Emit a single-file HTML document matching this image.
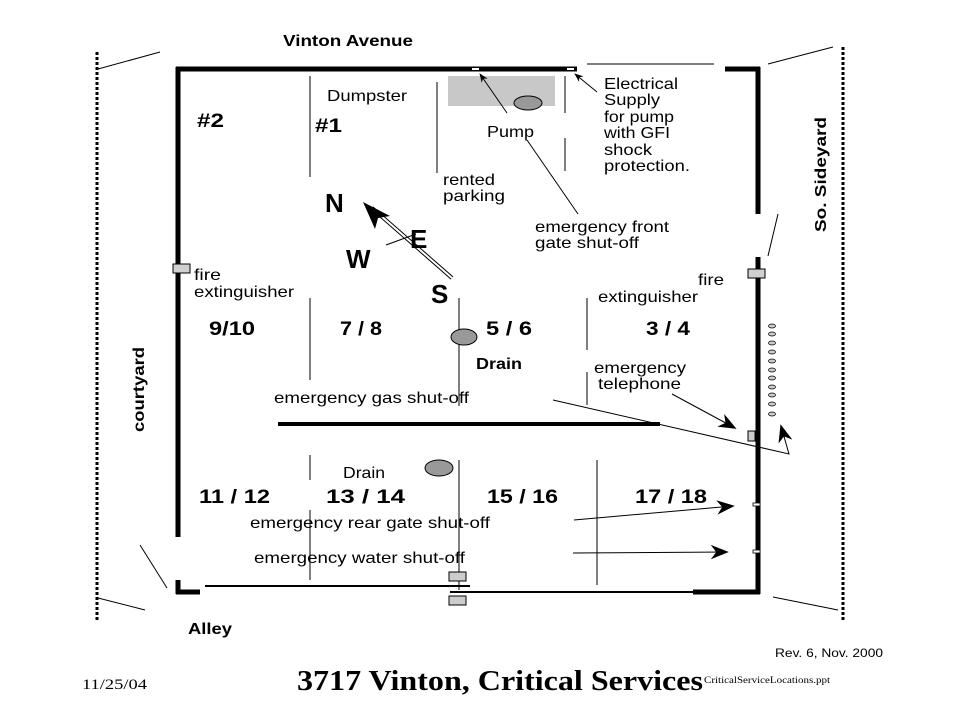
<!DOCTYPE html>
<html><head><meta charset="utf-8"><style>
html,body{margin:0;padding:0;background:#fff;}
svg{display:block;}
text{font-family:"Liberation Sans",Arial,sans-serif;fill:#000;}
</style></head><body>
<svg width="959" height="719" viewBox="0 0 959 719" xmlns="http://www.w3.org/2000/svg">
<defs>
<marker id="ah" viewBox="0 0 10 10" refX="9" refY="5" markerWidth="9" markerHeight="9" orient="auto-start-reverse" markerUnits="userSpaceOnUse"><path d="M0,1 L10,5 L0,9 L3,5 z" fill="#000"/></marker>
<marker id="ahb" viewBox="0 0 10 10" refX="9" refY="5" markerWidth="18" markerHeight="18" orient="auto" markerUnits="userSpaceOnUse"><path d="M0,1 L10,5 L0,9 L3,5 z" fill="#000"/></marker>
</defs>
<line x1="97" y1="52" x2="97" y2="620" stroke="#000" stroke-width="3" stroke-dasharray="3,2"/>
<line x1="843" y1="47" x2="843" y2="620" stroke="#000" stroke-width="3" stroke-dasharray="3,2"/>
<line x1="98" y1="69" x2="160" y2="52" stroke="#000" stroke-width="1"/>
<line x1="768" y1="64" x2="833" y2="47" stroke="#000" stroke-width="1"/>
<line x1="98" y1="598" x2="145" y2="610" stroke="#000" stroke-width="1"/>
<line x1="773" y1="597" x2="838" y2="610" stroke="#000" stroke-width="1"/>
<line x1="140" y1="545" x2="167" y2="588" stroke="#000" stroke-width="1"/>
<line x1="778" y1="214" x2="768" y2="256" stroke="#000" stroke-width="1"/>
<line x1="176" y1="69" x2="577" y2="69" stroke="#000" stroke-width="5"/>
<rect x="472" y="68" width="7" height="2" fill="#fff"/>
<rect x="567" y="68" width="7" height="2" fill="#fff"/>
<line x1="587" y1="64" x2="714" y2="64" stroke="#000" stroke-width="1"/>
<line x1="725" y1="69" x2="760" y2="69" stroke="#000" stroke-width="5"/>
<line x1="758" y1="67" x2="758" y2="214" stroke="#000" stroke-width="5"/>
<line x1="758" y1="257" x2="758" y2="594" stroke="#000" stroke-width="5"/>
<line x1="178" y1="67" x2="178" y2="537" stroke="#000" stroke-width="5"/>
<line x1="178" y1="580" x2="178" y2="594" stroke="#000" stroke-width="5"/>
<line x1="176" y1="592" x2="200" y2="592" stroke="#000" stroke-width="5"/>
<line x1="205" y1="586" x2="470" y2="586" stroke="#000" stroke-width="2"/>
<line x1="450" y1="592" x2="700" y2="592" stroke="#000" stroke-width="2"/>
<line x1="693" y1="592" x2="760" y2="592" stroke="#000" stroke-width="5"/>
<line x1="278" y1="424" x2="660" y2="424" stroke="#000" stroke-width="4"/>
<g stroke="#000" stroke-width="1">
<line x1="310" y1="76" x2="310" y2="177"/>
<line x1="437" y1="82" x2="437" y2="173"/>
<line x1="565" y1="76" x2="565" y2="113"/>
<line x1="565" y1="138" x2="565" y2="171"/>
<line x1="310" y1="298" x2="310" y2="380"/>
<line x1="459" y1="298" x2="459" y2="330"/>
<line x1="459" y1="345" x2="459" y2="406"/>
<line x1="587" y1="298" x2="587" y2="350"/>
<line x1="587" y1="372" x2="587" y2="405"/>
<line x1="310" y1="455" x2="310" y2="480"/>
<line x1="310" y1="510" x2="310" y2="580"/>
<line x1="459" y1="460" x2="459" y2="590"/>
<line x1="597" y1="460" x2="597" y2="585"/>
</g>
<rect x="448" y="76" width="107" height="30" fill="#c8c8c8"/>
<ellipse cx="528" cy="103" rx="14" ry="7" fill="#999" stroke="#000" stroke-width="1"/>
<line x1="507" y1="113" x2="480" y2="74" stroke="#000" stroke-width="1" marker-end="url(#ah)"/>
<line x1="597" y1="92" x2="575" y2="74" stroke="#000" stroke-width="1" marker-end="url(#ah)"/>
<line x1="527" y1="140" x2="578" y2="214" stroke="#000" stroke-width="1"/>
<line x1="452" y1="278" x2="372" y2="208" stroke="#000" stroke-width="4"/>
<line x1="452" y1="278" x2="372" y2="208" stroke="#fff" stroke-width="2"/>
<path d="M363,202 L390,216 L378,218 L375,229 z" fill="#000"/>
<line x1="386" y1="245" x2="416" y2="234" stroke="#000" stroke-width="1"/>
<rect x="173" y="264" width="17" height="9" fill="#d0d0d0" stroke="#000" stroke-width="1"/>
<rect x="748" y="269" width="17" height="9" fill="#d0d0d0" stroke="#000" stroke-width="1"/>
<ellipse cx="464" cy="337" rx="13" ry="8" fill="#999" stroke="#000" stroke-width="1"/>
<ellipse cx="439" cy="468" rx="14" ry="8" fill="#999" stroke="#000" stroke-width="1"/>
<g fill="#ccc" stroke="#000" stroke-width="0.7">
<ellipse cx="772" cy="326" rx="3.5" ry="2"/><ellipse cx="772" cy="334" rx="3.5" ry="2"/>
<ellipse cx="772" cy="343" rx="3.5" ry="2"/><ellipse cx="772" cy="352" rx="3.5" ry="2"/>
<ellipse cx="772" cy="361" rx="3.5" ry="2"/><ellipse cx="772" cy="370" rx="3.5" ry="2"/>
<ellipse cx="772" cy="378" rx="3.5" ry="2"/><ellipse cx="772" cy="387" rx="3.5" ry="2"/>
<ellipse cx="772" cy="395" rx="3.5" ry="2"/><ellipse cx="772" cy="404" rx="3.5" ry="2"/>
<ellipse cx="772" cy="414" rx="3.5" ry="2"/>
</g>
<rect x="748" y="431" width="7" height="10" fill="#ccc" stroke="#000" stroke-width="1"/>
<line x1="672" y1="394" x2="735" y2="428" stroke="#000" stroke-width="1" marker-end="url(#ahb)"/>
<polyline points="553,400 789,454 781,426" fill="none" stroke="#000" stroke-width="1" marker-end="url(#ahb)"/>
<line x1="574" y1="520" x2="733" y2="506" stroke="#000" stroke-width="1" marker-end="url(#ahb)"/>
<line x1="573" y1="553" x2="727" y2="552" stroke="#000" stroke-width="1" marker-end="url(#ahb)"/>
<rect x="753" y="503" width="7" height="3" fill="#fff" stroke="#000" stroke-width="0.8"/>
<rect x="753" y="550" width="7" height="3" fill="#fff" stroke="#000" stroke-width="0.8"/>
<rect x="449" y="572" width="17" height="9" fill="#ccc" stroke="#000" stroke-width="1"/>
<rect x="449" y="596" width="17" height="9" fill="#ccc" stroke="#000" stroke-width="1"/>
<g lengthAdjust="spacingAndGlyphs">
<text x="283" y="46" font-size="16" font-weight="bold" textLength="130" lengthAdjust="spacingAndGlyphs">Vinton Avenue</text>
<text x="327" y="101" font-size="16" textLength="80" lengthAdjust="spacingAndGlyphs">Dumpster</text>
<text x="197" y="127" font-size="19" font-weight="bold" textLength="27" lengthAdjust="spacingAndGlyphs">#2</text>
<text x="315" y="132" font-size="19" font-weight="bold" textLength="27" lengthAdjust="spacingAndGlyphs">#1</text>
<text x="487" y="137" font-size="16" textLength="47" lengthAdjust="spacingAndGlyphs">Pump</text>
<text x="604" y="89" font-size="16" textLength="74" lengthAdjust="spacingAndGlyphs">Electrical</text>
<text x="604" y="105" font-size="16" textLength="56" lengthAdjust="spacingAndGlyphs">Supply</text>
<text x="604" y="122" font-size="16" textLength="70" lengthAdjust="spacingAndGlyphs">for pump</text>
<text x="604" y="138" font-size="16" textLength="66" lengthAdjust="spacingAndGlyphs">with GFI</text>
<text x="604" y="155" font-size="16" textLength="48" lengthAdjust="spacingAndGlyphs">shock</text>
<text x="604" y="171" font-size="16" textLength="86" lengthAdjust="spacingAndGlyphs">protection.</text>
<text x="443" y="185" font-size="16" textLength="52" lengthAdjust="spacingAndGlyphs">rented</text>
<text x="443" y="201" font-size="16" textLength="62" lengthAdjust="spacingAndGlyphs">parking</text>
<text x="535" y="232" font-size="16" textLength="134" lengthAdjust="spacingAndGlyphs">emergency front</text>
<text x="535" y="248" font-size="16" textLength="104" lengthAdjust="spacingAndGlyphs">gate shut-off</text>
<text x="325" y="212" font-size="26" font-weight="bold">N</text>
<text x="346" y="268" font-size="26" font-weight="bold">W</text>
<text x="410" y="248" font-size="26" font-weight="bold">E</text>
<text x="431" y="303" font-size="26" font-weight="bold">S</text>
<text x="194" y="280" font-size="16" textLength="27" lengthAdjust="spacingAndGlyphs">fire</text>
<text x="194" y="297" font-size="16" textLength="100" lengthAdjust="spacingAndGlyphs">extinguisher</text>
<text x="698" y="285" font-size="16" textLength="26" lengthAdjust="spacingAndGlyphs">fire</text>
<text x="598" y="302" font-size="16" textLength="100" lengthAdjust="spacingAndGlyphs">extinguisher</text>
<text x="209" y="335" font-size="19" font-weight="bold" textLength="46" lengthAdjust="spacingAndGlyphs">9/10</text>
<text x="340" y="335" font-size="19" font-weight="bold" textLength="42" lengthAdjust="spacingAndGlyphs">7 / 8</text>
<text x="486" y="335" font-size="19" font-weight="bold" textLength="46" lengthAdjust="spacingAndGlyphs">5 / 6</text>
<text x="646" y="335" font-size="19" font-weight="bold" textLength="44" lengthAdjust="spacingAndGlyphs">3 / 4</text>
<text x="476" y="369" font-size="16" font-weight="bold" textLength="46" lengthAdjust="spacingAndGlyphs">Drain</text>
<text x="594" y="373" font-size="16" textLength="92" lengthAdjust="spacingAndGlyphs">emergency</text>
<text x="598" y="389" font-size="16" textLength="83" lengthAdjust="spacingAndGlyphs">telephone</text>
<text x="274" y="403" font-size="16" textLength="195" lengthAdjust="spacingAndGlyphs">emergency gas shut-off</text>
<text x="343" y="478" font-size="16" textLength="42" lengthAdjust="spacingAndGlyphs">Drain</text>
<text x="199" y="503" font-size="19" font-weight="bold" textLength="71" lengthAdjust="spacingAndGlyphs">11 / 12</text>
<text x="326" y="503" font-size="19" font-weight="bold" textLength="79" lengthAdjust="spacingAndGlyphs">13 /  14</text>
<text x="487" y="503" font-size="19" font-weight="bold" textLength="71" lengthAdjust="spacingAndGlyphs">15 / 16</text>
<text x="635" y="503" font-size="19" font-weight="bold" textLength="72" lengthAdjust="spacingAndGlyphs">17 / 18</text>
<text x="250" y="528" font-size="16" textLength="240" lengthAdjust="spacingAndGlyphs">emergency rear gate shut-off</text>
<text x="254" y="563" font-size="16" textLength="211" lengthAdjust="spacingAndGlyphs">emergency water shut-off</text>
<text x="188" y="634" font-size="16" font-weight="bold" textLength="44" lengthAdjust="spacingAndGlyphs">Alley</text>
<text transform="translate(144,432) rotate(-90)" font-size="16" font-weight="bold" textLength="85" lengthAdjust="spacingAndGlyphs">courtyard</text>
<text transform="translate(826,232) rotate(-90)" font-size="16" font-weight="bold" textLength="115" lengthAdjust="spacingAndGlyphs">So. Sideyard</text>
<text x="775" y="657" font-size="12" textLength="108" lengthAdjust="spacingAndGlyphs">Rev. 6,  Nov. 2000</text>
<text x="82" y="689" font-size="15" style="font-family:'Liberation Serif',serif" textLength="65" lengthAdjust="spacingAndGlyphs">11/25/04</text>
<text x="297" y="690" font-size="29" font-weight="bold" style="font-family:'Liberation Serif',serif" textLength="406" lengthAdjust="spacingAndGlyphs">3717 Vinton, Critical Services</text>
<text x="704" y="683" font-size="9" style="font-family:'Liberation Serif',serif" textLength="126" lengthAdjust="spacingAndGlyphs">CriticalServiceLocations.ppt</text>
</g>
</svg>
</body></html>
